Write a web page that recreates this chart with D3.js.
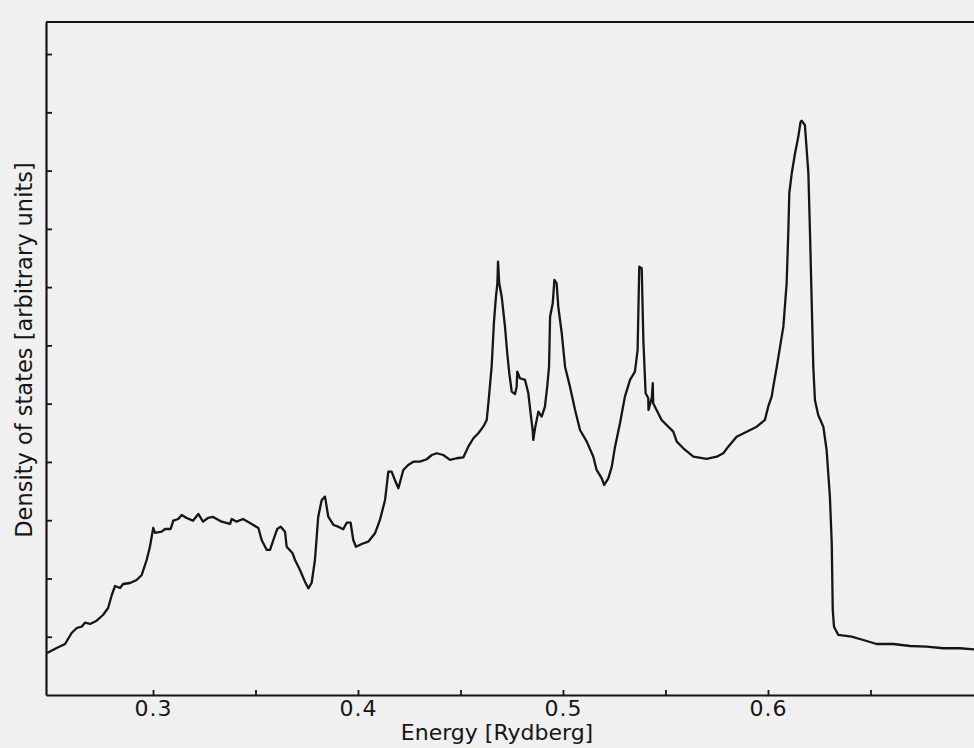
<!DOCTYPE html>
<html><head><meta charset="utf-8">
<script src="https://cdn.jsdelivr.net/npm/d3@7"></script>
<style>html,body{margin:0;padding:0;background:#f0f0f0;} svg{display:block;}</style>
</head><body>
<svg id="chart" width="974" height="748"></svg>
<script>
const energy = [
0.2483,0.2530,0.2571,0.2603,0.2628,0.2652,0.2668,0.2693,0.2725,0.2756,
0.2781,0.2799,0.2815,0.2839,0.2854,0.2888,0.2920,0.2945,0.2969,0.2985,
0.3001,0.3010,0.3042,0.3059,0.3086,0.3099,0.3123,0.3140,0.3164,0.3195,
0.3221,0.3244,0.3268,0.3293,0.3335,0.3376,0.3384,0.3408,0.3439,0.3473,
0.3514,0.3530,0.3555,0.3571,0.3587,0.3606,0.3623,0.3644,0.3652,0.3681,
0.3693,0.3717,0.3741,0.3758,0.3774,0.3790,0.3806,0.3823,0.3839,0.3855,
0.3880,0.3904,0.3928,0.3945,0.3964,0.3977,0.3990,0.4018,0.4050,0.4083,
0.4107,0.4132,0.4148,0.4164,0.4180,0.4197,0.4221,0.4245,0.4270,0.4302,
0.4335,0.4360,0.4384,0.4416,0.4449,0.4481,0.4514,0.4538,0.4563,0.4587,
0.4611,0.4628,0.4636,0.4652,0.4663,0.4673,0.4680,0.4683,0.4689,0.4701,
0.4717,0.4728,0.4738,0.4750,0.4766,0.4774,0.4777,0.4790,0.4815,0.4831,
0.4842,0.4852,0.4855,0.4865,0.4880,0.4896,0.4912,0.4923,0.4932,0.4937,
0.4950,0.4958,0.4969,0.4977,0.4994,0.5010,0.5034,0.5059,0.5083,0.5116,
0.5148,0.5164,0.5189,0.5201,0.5221,0.5238,0.5254,0.5278,0.5302,0.5327,
0.5351,0.5364,0.5372,0.5384,0.5392,0.5403,0.5416,0.5417,0.5433,0.5438,
0.5440,0.5481,0.5538,0.5555,0.5587,0.5636,0.5701,0.5750,0.5782,0.5806,
0.5847,0.5896,0.5945,0.5985,0.6001,0.6018,0.6026,0.6043,0.6075,0.6091,
0.6099,0.6104,0.6116,0.6132,0.6148,0.6159,0.6164,0.6180,0.6197,0.6205,
0.6213,0.6221,0.6229,0.6245,0.6270,0.6286,0.6302,0.6311,0.6316,0.6322,
0.6343,0.6408,0.6465,0.6530,0.6611,0.6693,0.6774,0.6855,0.6937,0.7005
];
const dos = [
0.721,0.807,0.875,1.064,1.150,1.172,1.241,1.219,1.275,1.373,
1.493,1.716,1.871,1.837,1.905,1.922,1.974,2.060,2.317,2.545,
2.866,2.781,2.803,2.849,2.849,2.992,3.021,3.090,3.038,2.992,
3.107,2.975,3.038,3.055,2.975,2.935,3.021,2.975,3.021,2.952,
2.866,2.660,2.489,2.489,2.660,2.849,2.889,2.803,2.545,2.432,
2.317,2.146,1.945,1.831,1.927,2.317,3.060,3.347,3.404,3.060,
2.918,2.889,2.844,2.957,2.957,2.660,2.545,2.592,2.631,2.775,
3.004,3.347,3.833,3.833,3.690,3.548,3.862,3.948,4.004,4.004,
4.046,4.119,4.149,4.119,4.034,4.063,4.080,4.262,4.406,4.492,
4.605,4.720,5.007,5.635,6.385,6.836,7.066,7.437,7.066,6.836,
6.321,5.865,5.522,5.206,5.166,5.292,5.549,5.436,5.407,5.178,
4.835,4.548,4.377,4.605,4.863,4.777,4.948,5.292,5.635,6.493,
6.723,7.123,7.066,6.665,6.208,5.635,5.292,4.892,4.548,4.348,
4.090,3.862,3.719,3.604,3.719,3.919,4.262,4.663,5.120,5.407,
5.549,5.922,7.351,7.324,6.093,5.178,5.098,4.892,5.098,5.350,
5.007,4.720,4.519,4.348,4.234,4.090,4.051,4.090,4.149,4.262,
4.433,4.519,4.605,4.720,4.948,5.120,5.292,5.635,6.321,7.066,
7.925,8.611,8.955,9.298,9.583,9.835,9.857,9.783,8.955,7.925,
6.780,5.635,5.063,4.806,4.605,4.205,3.404,2.609,1.459,1.172,
1.030,1.001,0.944,0.875,0.875,0.841,0.829,0.802,0.802,0.784
];
const xMajorTicks = [0.3, 0.4, 0.5, 0.6];
const xTickLabels = ["0.3", "0.4", "0.5", "0.6"];
const xMinorTicks = [0.35, 0.45, 0.55, 0.65];
const yTicks = [1, 2, 3, 4, 5, 6, 7, 8, 9, 10, 11];
const xTitle = "Energy [Rydberg]";
const yTitle = "Density of states [arbitrary units]";

const FONT = "'DejaVu Sans', sans-serif";
const INK = "#151515";
const svg = d3.select("#chart");

const x = d3.scaleLinear().domain([0.2478, 0.7005]).range([46, 974]);
const y = d3.scaleLinear().domain([0, 11.55]).range([695, 22]);

// bottom axis (major ticks + labels)
const gx = svg.append("g").attr("transform", `translate(0,${y(0)})`)
  .call(d3.axisBottom(x).tickValues(xMajorTicks).tickSize(-5).tickSizeOuter(0)
    .tickPadding(5).tickFormat((d, i) => xTickLabels[i]));
gx.select(".domain").attr("stroke", INK).attr("stroke-width", 2.2);
gx.selectAll(".tick line").attr("stroke", INK).attr("stroke-width", 1.8);
gx.selectAll(".tick text").attr("fill", INK).style("font-family", FONT)
  .style("font-size", "22px").style("letter-spacing", "1px");

// bottom axis minor ticks
const gxm = svg.append("g").attr("transform", `translate(0,${y(0)})`)
  .call(d3.axisBottom(x).tickValues(xMinorTicks).tickSize(-5).tickSizeOuter(0).tickFormat(""));
gxm.select(".domain").remove();
gxm.selectAll(".tick line").attr("stroke", INK).attr("stroke-width", 1.8);

// left axis
const gy = svg.append("g").attr("transform", `translate(${x.range()[0]},0)`)
  .call(d3.axisLeft(y).tickValues(yTicks).tickSize(-6).tickSizeOuter(0).tickFormat(""));
gy.select(".domain").attr("stroke", INK).attr("stroke-width", 2.2);
gy.selectAll(".tick line").attr("stroke", INK).attr("stroke-width", 1.8);

// top frame line
svg.append("line")
  .attr("x1", x.range()[0]).attr("x2", x.range()[1])
  .attr("y1", y(y.domain()[1])).attr("y2", y(y.domain()[1]))
  .attr("stroke", INK).attr("stroke-width", 2.2);

// curve
const pts = energy.map((e, i) => ({e, d: dos[i]}));
svg.append("path").datum(pts)
  .attr("fill", "none").attr("stroke", INK).attr("stroke-width", 2.3)
  .attr("stroke-linejoin", "round")
  .attr("d", d3.line().x(p => x(p.e)).y(p => y(p.d)));

// axis titles
svg.append("text").attr("x", 497).attr("y", 740).attr("text-anchor", "middle")
  .attr("fill", INK).style("font-family", FONT).style("font-size", "22px")
  .text(xTitle);
svg.append("text").attr("transform", "translate(32,350) rotate(-90)")
  .attr("text-anchor", "middle").attr("fill", INK)
  .style("font-family", FONT).style("font-size", "22.5px").text(yTitle);
</script>
</body></html>
